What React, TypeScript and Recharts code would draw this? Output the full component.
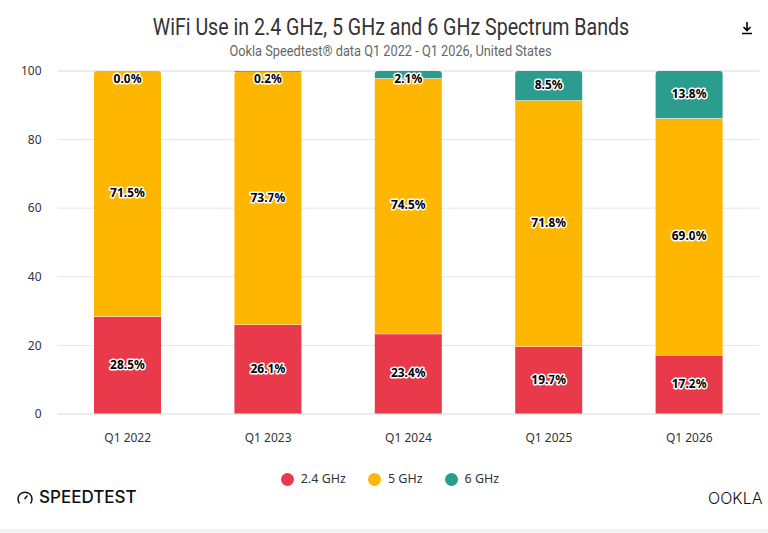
import { BarChart, Bar, XAxis, YAxis, CartesianGrid, Legend, Rectangle } from 'recharts';

const categories = ['Q1 2022', 'Q1 2023', 'Q1 2024', 'Q1 2025', 'Q1 2026'];
const ghz24 = [28.5, 26.1, 23.4, 19.7, 17.2];
const ghz5 = [71.5, 73.7, 74.5, 71.8, 69.0];
const ghz6 = [0.0, 0.2, 2.1, 8.5, 13.8];
const yTicks = [0, 20, 40, 60, 80, 100];

const data = categories.map((name, i) => ({
  name,
  '2.4 GHz': ghz24[i],
  '5 GHz': ghz5[i],
  '6 GHz': ghz6[i],
}));

const plotTop = 71;
const bodyFont = '"Noto Sans", sans-serif';
const titleFont = 'Roboto, sans-serif';

// Labels stay inside the plot, even for the very thin top segments
const renderLabel = (props: any) => {
  const { x, y, width, height, value } = props;
  const cy = Math.max(y + height / 2, plotTop + 8) - 1;
  return (
    <text
      x={x + width / 2}
      y={cy}
      textAnchor="middle"
      dominantBaseline="central"
      fontFamily={bodyFont}
      fontSize={12}
      fontWeight={700}
      fill="#000"
      stroke="#fff"
      strokeWidth={3}
      strokeLinejoin="round"
      paintOrder="stroke"
    >
      {Number(value).toFixed(1)}%
    </text>
  );
};

// Filled segment with a thin white separator along its top edge only
const barShape = (rounded: (i: number) => boolean) => (props: any) => {
  const { x, y, width, height, fill, index } = props;
  if (height <= 0) return <g />;
  return (
    <g>
      <Rectangle x={x} y={y} width={width} height={height} fill={fill} radius={rounded(index) ? [3, 3, 0, 0] : 0} />
      {!rounded(index) && <line x1={x} x2={x + width} y1={y} y2={y} stroke="#fff" strokeWidth={1} />}
    </g>
  );
};

const valueLabel = (values: number[]) => (props: any) =>
  renderLabel({ ...props, value: values[props.index] });

export default function App() {
  return (
    <div style={{ position: 'absolute', left: 0, top: 0, width: 768, height: 533, background: '#fff', overflow: 'hidden' }}>
      <div style={{ position: 'absolute', top: 14, left: 0, width: 782, textAlign: 'center', fontFamily: titleFont, fontSize: 23, color: '#333', lineHeight: '28px', transform: 'scaleX(0.853)', whiteSpace: 'nowrap' }}>
        WiFi Use in 2.4 GHz, 5 GHz and 6 GHz Spectrum Bands
      </div>
      <div style={{ position: 'absolute', top: 42, left: 0, width: 781, textAlign: 'center', fontFamily: titleFont, fontSize: 15, color: '#666', lineHeight: '18px', transform: 'scaleX(0.852)', whiteSpace: 'nowrap' }}>
        Ookla Speedtest® data Q1 2022 - Q1 2026, United States
      </div>
      <BarChart
        width={768}
        height={533}
        data={data}
        barCategoryGap="26%"
        margin={{ top: 71, right: 8.5, bottom: 72, left: 0.5 }}
      >
        <CartesianGrid vertical={false} stroke="#e6e6e6" />
        <XAxis
          dataKey="name"
          axisLine={{ stroke: '#e6e6e6' }}
          tickLine={false}
          tickMargin={13}
          tick={{ fontFamily: bodyFont, fontSize: 12, fill: '#333' }}
        />
        <YAxis
          width={57}
          domain={[0, 100]}
          ticks={yTicks}
          axisLine={false}
          tickLine={false}
          tickMargin={10}
          tick={{ fontFamily: bodyFont, fontSize: 12, fill: '#333' }}
        />
        <Legend
          iconType="circle"
          iconSize={13}
          wrapperStyle={{ position: 'absolute', top: 470, left: 0, width: 802, fontFamily: bodyFont, fontSize: 12.5 }}
          formatter={(v: string) => <span style={{ color: '#333', paddingLeft: 3, paddingRight: 12 }}>{v}</span>}
        />
        <Bar dataKey="2.4 GHz" stackId="a" fill="#E83A4A" isAnimationActive={false} shape={barShape(() => false)} label={valueLabel(ghz24)} />
        <Bar dataKey="5 GHz" stackId="a" fill="#FFB600" isAnimationActive={false} shape={barShape((i) => ghz6[i] < 1)} label={valueLabel(ghz5)} />
        <Bar dataKey="6 GHz" stackId="a" fill="#2A9D8F" isAnimationActive={false} shape={barShape(() => true)} label={valueLabel(ghz6)} />
      </BarChart>
      <svg style={{ position: 'absolute', left: 741, top: 21 }} width={12} height={14} viewBox="0 0 12 14">
        <path d="M6 1 V9 M2.5 6 L6 9.5 L9.5 6 M1 12.5 H11" stroke="#000" strokeWidth={1.6} fill="none" />
      </svg>
      <svg style={{ position: 'absolute', left: 17, top: 490 }} width={16} height={14} viewBox="0 0 16 14">
        <path d="M2.5 13.5 A7 7 0 1 1 13.5 13.5" stroke="#111" strokeWidth={1.5} fill="none" />
        <path d="M7.5 9 L10.5 5.5" stroke="#111" strokeWidth={1.5} fill="none" />
      </svg>
      <div style={{ position: 'absolute', left: 39, top: 487, fontFamily: 'Inter, sans-serif', fontWeight: 500, fontSize: 17, color: '#111', lineHeight: '20px' }}>SPEEDTEST</div>
      <div style={{ position: 'absolute', left: 708, top: 488, fontFamily: 'Inter, sans-serif', fontWeight: 300, fontSize: 16, color: '#111', lineHeight: '20px', whiteSpace: 'nowrap' }}>OOKLA</div>
      <div style={{ position: 'absolute', left: 0, top: 529, width: 768, height: 4, background: '#f2f2f2' }} />
    </div>
  );
}
